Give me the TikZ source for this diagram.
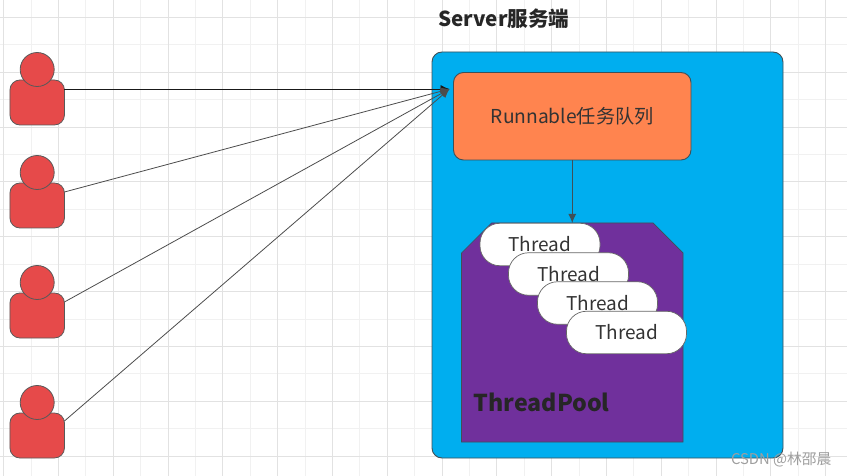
\documentclass[tikz,border=0pt]{standalone}
\usepackage{fontspec}
\setmainfont{Noto Sans CJK SC}
\usetikzlibrary{arrows.meta, positioning}

\definecolor{gridminor}{HTML}{F1F1F1}
\definecolor{gridmajor}{HTML}{E2E2E2}
\definecolor{personred}{HTML}{E64A4A}
\definecolor{serverblue}{HTML}{00AEEF}
\definecolor{queueorange}{HTML}{FF844F}
\definecolor{poolpurple}{HTML}{70309C}
\definecolor{edgegray}{HTML}{3F5058}

\tikzset{
  body/.style={draw=black!65, line width=0.8pt, fill=personred, rounded corners=10pt,
    minimum width=54.5pt, minimum height=45pt, outer sep=0pt},
  head/.style={draw=black!65, line width=0.8pt, fill=personred, circle,
    minimum size=34pt, inner sep=0pt, outer sep=0pt},
  thread/.style={draw=black!60, line width=0.7pt, fill=white, rounded corners=20pt,
    minimum width=120pt, minimum height=42.5pt, outer sep=0pt, inner sep=0pt,
    text=black!80, font=\fontsize{19}{22}\selectfont},
  request/.style={draw=black!70, line width=0.8pt, -{Latex[length=9pt,width=8pt]}}
}

\begin{document}
\begin{tikzpicture}[x=1pt, y=-1pt]
  \useasboundingbox (0,0) rectangle (847,476);

  % Background grid
  \foreach \i in {1,3,...,31} \draw[gridminor] ({3.3+\i*27.4},0) -- ({3.3+\i*27.4},476);
  \foreach \i in {1,3,...,17} \draw[gridminor] (0,{17.3+\i*27.4}) -- (847,{17.3+\i*27.4});
  \foreach \i in {0,2,...,30} \draw[gridmajor] ({3.3+\i*27.4},0) -- ({3.3+\i*27.4},476);
  \foreach \i in {0,2,...,16} \draw[gridmajor] (0,{17.3+\i*27.4}) -- (847,{17.3+\i*27.4});

  % Server side
  \node[draw=edgegray, line width=0.9pt, fill=serverblue, rounded corners=10pt, outer sep=0pt,
    minimum width=351pt, minimum height=406pt] (server) at (607.5,255) {};
  \node[font=\fontsize{20.6}{24}\selectfont\bfseries, text=black!85, anchor=west] (title) at (435,18.5) {Server服务端};
  \node[draw=edgegray, line width=0.9pt, fill=queueorange, rounded corners=10pt, outer sep=0pt,
    minimum width=237.5pt, minimum height=87.5pt, text=black!80,
    font=\fontsize{19.2}{22}\selectfont] (queue) at (572.25,116.25) {\raisebox{-1.5pt}{Runnable任务队列}};

  % Thread pool
  \draw[draw=edgegray, line width=0.7pt, fill=poolpurple]
    (461.5,253) -- (491.5,223) -- (653,223) -- (683,253) -- (683,442) -- (461.5,442) -- cycle;
  \coordinate (pooltop) at (572.25,223);
  \node[thread] (thread1) at (540,244.5) {Thread};
  \node[thread, below right=-13pt and -91.5pt of thread1] (thread2) {Thread};
  \node[thread, below right=-13.5pt and -91pt of thread2] (thread3) {Thread};
  \node[thread, below right=-13pt and -91pt of thread3] (thread4) {Thread};
  \node[font=\fontsize{23.2}{28}\selectfont\bfseries, text=black!85, anchor=west] (poolname) at (470,402) {ThreadPool};

  % Clients
  \node[body] (body1) at (37.2,102.5) {};
  \node[head, above=-6.5pt of body1] (head1) {};
  \node[body] (body2) at (37.2,205.5) {};
  \node[head, above=-6.5pt of body2] (head2) {};
  \node[body] (body3) at (37.2,315.5) {};
  \node[head, above=-6.5pt of body3] (head3) {};
  \node[body] (body4) at (37.2,435.5) {};
  \node[head, above=-6.5pt of body4] (head4) {};

  % Connect the nodes
  \coordinate (inlet) at (449.5,89);
  \draw[request, draw=black!90] (body1.east |- 0,89) -- (inlet);
  \draw[request] (body2.east |- 0,192) -- (inlet);
  \draw[request] (body3.east |- 0,302) -- (inlet);
  \draw[request] (body4.east |- 0,421) -- (inlet);
  \draw[draw=edgegray, line width=0.9pt, -{Latex[length=9pt,width=8pt]}] (queue) -- (pooltop);

  \node[font=\fontsize{14.8}{16}\selectfont, text=black!38, anchor=east] (mark) at (835,460) {CSDN @林邵晨};
\end{tikzpicture}
\end{document}
